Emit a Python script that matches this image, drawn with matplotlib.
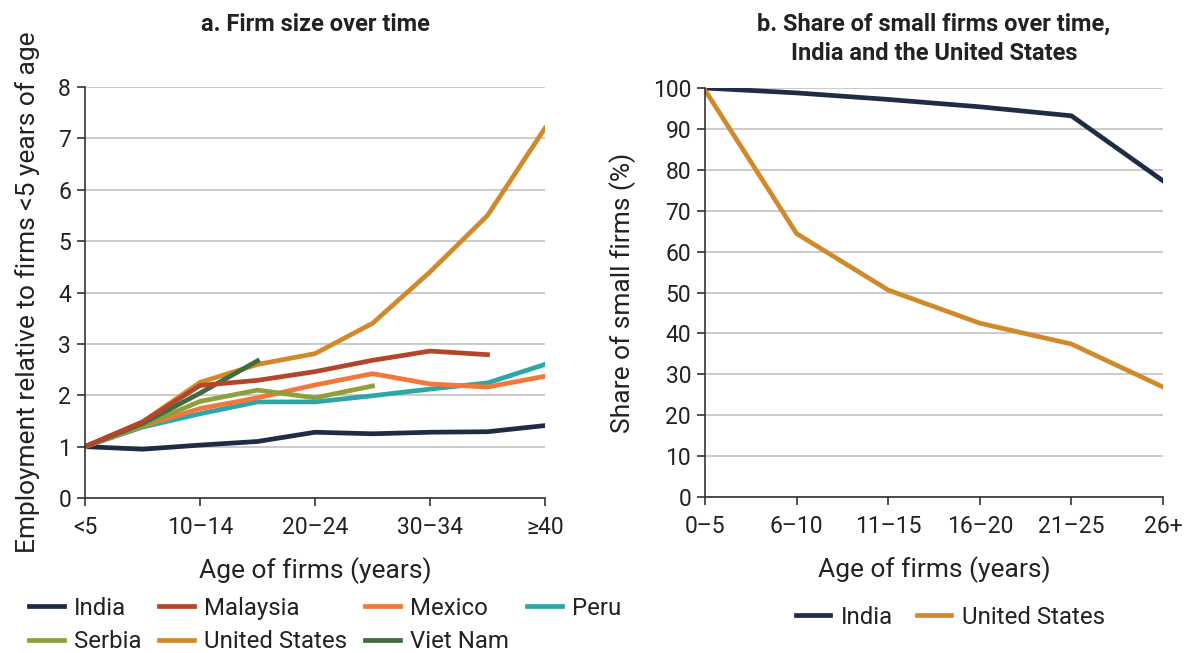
import numpy as np
import matplotlib.pyplot as plt

plt.rcParams['font.family'] = ['Roboto', 'DejaVu Sans']

# panel a: employment relative to firms <5 years of age
ages_a = ['<5', '5–9', '10–14', '15–19', '20–24', '25–29', '30–34', '35–39', '≥40']
india_a = [1.0, 0.95, 1.03, 1.10, 1.28, 1.25, 1.28, 1.29, 1.41]
malaysia = [1.0, 1.48, 2.19, 2.29, 2.46, 2.68, 2.86, 2.79]
mexico = [1.0, 1.40, 1.74, 1.95, 2.20, 2.42, 2.22, 2.16, 2.37]
peru = [1.0, 1.38, 1.64, 1.87, 1.87, 1.99, 2.12, 2.24, 2.60]
serbia = [1.0, 1.41, 1.88, 2.10, 1.95, 2.18]
us_a = [1.0, 1.48, 2.25, 2.60, 2.81, 3.40, 4.40, 5.50, 7.20]
vietnam = [1.0, 1.45, 2.04, 2.67]

# panel b: share of small firms (%)
ages_b = ['0–5', '6–10', '11–15', '16–20', '21–25', '26+']
india_b = [100, 98.8, 97.2, 95.4, 93.2, 77.3]
us_b = [99.5, 64.4, 50.6, 42.5, 37.4, 26.9]

colors = {
    'India': '#1f2c45',
    'Malaysia': '#b4452b',
    'Mexico': '#f4773a',
    'Peru': '#2aa7a6',
    'Serbia': '#8f9f3b',
    'United States': '#d08a2c',
    'Viet Nam': '#3f6b3f',
}

fig = plt.figure(figsize=(11.85, 6.53), dpi=100)
ax1 = fig.add_axes([85 / 1185, 155 / 653, 460 / 1185, 411 / 653])
ax2 = fig.add_axes([705 / 1185, 156 / 653, 458 / 1185, 409 / 653])

lw = 3.4
series_a = dict([('India', india_a), ('Malaysia', malaysia), ('Mexico', mexico),
                 ('Peru', peru), ('Serbia', serbia), ('United States', us_a),
                 ('Viet Nam', vietnam)])
draw_order = ['India', 'Peru', 'Mexico', 'Serbia', 'United States', 'Viet Nam', 'Malaysia']
lines = {}
for name in draw_order:
    vals = series_a[name]
    ln, = ax1.plot(np.arange(len(vals)), vals, color=colors[name], lw=lw,
                   solid_joinstyle='miter', label=name)
    lines[name] = ln

for name, vals in [('India', india_b), ('United States', us_b)]:
    ax2.plot(np.arange(len(vals)), vals, color=colors[name], lw=lw,
             solid_joinstyle='miter', label=name)

tick_size = 16.5
label_size = 19
for ax in (ax1, ax2):
    for s in ('top', 'right'):
        ax.spines[s].set_visible(False)
    for s in ('left', 'bottom'):
        ax.spines[s].set_color('#333333')
        ax.spines[s].set_linewidth(1.2)
    ax.yaxis.grid(True, color='#bdbdbd', lw=1.1)
    ax.set_axisbelow(True)
    ax.tick_params(length=6, width=1.2, color='#333333', labelsize=tick_size,
                   labelcolor='#222222', pad=4)
    ax.tick_params(axis='x', pad=7)
    ax.set_xlabel('Age of firms (years)', fontsize=label_size, color='#222222', labelpad=13)

ax1.set_xlim(0, 8)
ax1.set_ylim(0, 8)
ax1.set_xticks(range(0, 9, 2))
ax1.set_xticklabels(ages_a[::2])
ax1.set_yticks(range(0, 9))
ax1.set_ylabel('Employment relative to firms <5 years of age', fontsize=label_size,
               color='#222222', labelpad=13)
ax1.set_title('a. Firm size over time', fontsize=17, fontweight='bold',
              color='#222222', pad=40)

ax2.set_xlim(0, 5)
ax2.set_ylim(0, 100)
ax2.set_xticks(range(6))
ax2.set_xticklabels(ages_b)
ax2.set_yticks(range(0, 101, 10))
ax2.set_ylabel('Share of small firms (%)', fontsize=label_size, color='#222222', labelpad=12)
ax2.set_title('b. Share of small firms over time,\nIndia and the United States',
              fontsize=17, fontweight='bold', color='#222222', pad=20,
              linespacing=1.35)

leg_order = ['India', 'Serbia', 'Malaysia', 'United States', 'Mexico', 'Viet Nam', 'Peru']
fig.legend([lines[n] for n in leg_order], leg_order, ncol=4, frameon=False,
           loc='upper left', bbox_to_anchor=(14 / 1185, 1 - 582 / 653),
           fontsize=17.3, handlelength=1.45, handletextpad=0.42, columnspacing=0.75,
           labelspacing=0.42, borderpad=0.12, labelcolor='#222222')
ax2.legend(ncol=2, frameon=False, loc='upper center', bbox_to_anchor=(0.535, -0.225),
           fontsize=17.3, handlelength=1.45, handletextpad=0.42, columnspacing=1.0,
           borderpad=0.2, labelcolor='#222222')

fig.savefig('out.png', dpi=100)
